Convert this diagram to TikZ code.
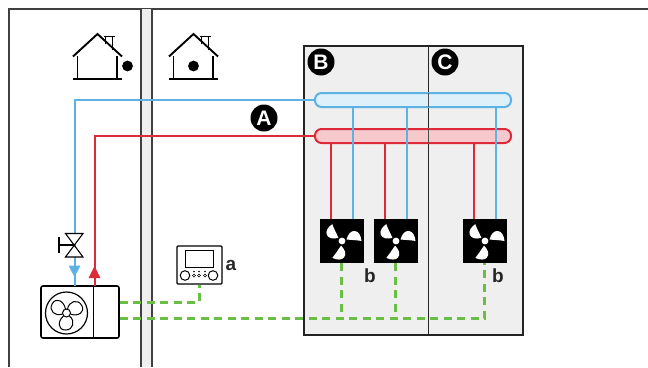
\documentclass[tikz,border=0pt]{standalone}
\usepackage{fontspec}
\setmainfont{Liberation Sans}
\definecolor{pipeblue}{HTML}{5CB2E5}
\definecolor{pipered}{HTML}{DC2A38}
\definecolor{wiregreen}{HTML}{6ABD45}
\definecolor{zonegray}{HTML}{EFEFEF}
\newcommand{\fanblades}{%
	\foreach \a in {0,120,240}
	\fill[white, rotate=\a] (4.5,-1.5) .. controls (6,-7) and (9,-10.5) .. (13,-10) .. controls (17,-9.5) and (19,-5) .. (19.5,0) .. controls (14,-1) and (9,-1) .. (4.5,-1.5) -- cycle;
}
\newcommand{\fanpetals}{%
	\foreach \a in {0,120,240}
	\draw[line width=1pt, rotate=\a] (-3,3) .. controls (-9,8) and (-9,17) .. (-1,17) .. controls (7,17) and (9,8) .. (3,3);
}
\newcommand{\housepic}[1]{%
	\begin{scope}[shift={(#1,0)}]
		\draw[line width=1.5pt] (-20,56) -- (-20,79) (19.5,56) -- (19.5,79) (-24.5,79) -- (24.5,79);
		\draw[line width=1pt] (8,44) -- (8,36) (15,50) -- (15,36) (6,36) -- (17,36);
		\draw[line width=1.9pt] (-24.5,56.5) -- (0,34) -- (24.5,56.5);
	\end{scope}
}
\begin{document}
\begin{tikzpicture}[x=1pt, y=-1pt,
	frame style/.style={draw=black!75, line width=1.5pt},
	header style/.style={draw, rounded corners=6.5pt, minimum width=196pt, minimum height=14pt, inner sep=0pt, line width=2pt},
	coil style/.style={fill=black, minimum size=44pt, inner sep=0pt},
	badge style/.style={circle, fill=black, text=white, minimum size=27pt, inner sep=0pt, font=\bfseries\fontsize{21}{21}\selectfont},
	letter style/.style={text=black!85, inner sep=0pt, font=\bfseries\fontsize{19}{19}\selectfont},
	blue pipe/.style={draw=pipeblue, line width=2.2pt},
	red pipe/.style={draw=pipered, line width=2.2pt},
	green wire/.style={draw=wiregreen, line width=2.6pt, dash pattern=on 8pt off 5.5pt}]
	\useasboundingbox (0,0) rectangle (648,367);
	% building
	\draw[frame style] (9,367) -- (9,9) -- (648,9);
	\fill[zonegray] (141,9) rectangle (152,367);
	\draw[frame style] (141,9) -- (141,367) (152,9) -- (152,367);
	\housepic{97.5}
	\housepic{193.5}
	\fill (127.5,66) circle (5.4);
	\fill (193.5,66) circle (5.4);
	% zones
	\draw[zonegray!15!black, fill=zonegray, line width=1.6pt] (304,46) rectangle (523,335);
	\draw[black!85, line width=1.2pt] (428.5,46) -- (428.5,335);
	\node[badge style] (B) at (321,62) {B};
	\node[badge style] (C) at (445,62) {C};
	\node[badge style] (A) at (264,118) {A};
	% units
	\node[draw, line width=1.6pt, fill=white, rounded corners=2pt, minimum width=78pt, minimum height=52pt, inner sep=0pt] (OU) at (80,312) {};
	\node[draw, line width=1.4pt, fill=white, rounded corners=1pt, minimum width=45pt, minimum height=38pt, inner sep=0pt] (UI) at (199.5,265) {};
	\node[coil style] (F1) at (342,241) {};
	\node[coil style] (F2) at (396,241) {};
	\node[coil style] (F3) at (485,241) {};
	\node[header style, draw=pipeblue, fill=pipeblue!20] (HB) at (413,100) {};
	\node[header style, draw=pipered, fill=pipered!25] (HR) at (413,136) {};
	\draw[black!70, line width=0.8pt] (428.5,93) -- (428.5,107) (428.5,129) -- (428.5,143);
	\coordinate (V) at (75,245);
	\coordinate (OB) at (75,286);
	\coordinate (OR) at (95,286);
	% wires
	\draw[green wire] (OU.east |- 0,302.5) -| (UI.south);
	\draw[green wire] (OU.east |- 0,318.5) -| ([xshift=-0.5pt]F3.south);
	\draw[green wire] ([xshift=-0.5pt]F1.south) -- ([xshift=-0.5pt]F1.south |- 0,318.5);
	\draw[green wire] ([xshift=-0.5pt]F2.south) -- ([xshift=-0.5pt]F2.south |- 0,318.5);
	% pipes
	\draw[red pipe] (HR.west) -| (OR);
	\foreach \x in {331,385,474}
	\draw[red pipe] (\x,143) -- (\x,219);
	\draw[blue pipe] (HB.west) -| (V);
	\draw[blue pipe] (V) -- (OB);
	\foreach \x in {353,407,496}
	\draw[blue pipe] (\x,107) -- (\x,219);
	% arrows and valve
	\fill[pipeblue] (68.5,265.5) -- (80.5,265.5) -- (74.5,277) -- cycle;
	\fill[pipered] (88.5,278) -- (100.5,278) -- (94.5,266) -- cycle;
	\draw[line width=1.1pt, fill=white] (65.5,233.5) -- (83,233.5) -- (65.5,257) -- (83,257) -- cycle;
	\draw[line width=1.1pt] (74.25,245) -- (59,245) (59,237) -- (59,253);
	% outdoor fan
	\draw[line width=0.9pt] (93,286) -- (93,338);
	\draw[line width=1.2pt] (66.5,313) circle (21);
	\begin{scope}[shift={(66.5,313)}]
		\fanpetals
	\end{scope}
	\draw[line width=1pt, fill=white] (66.5,313) circle (4);
	% fan coils
	\foreach \f in {F1,F2,F3} {
		\begin{scope}[shift={(\f)}]
			\fanblades
			\fill[white] (0,0) circle (3.4);
		\end{scope}
	}
	% controller
	\draw[line width=1pt] (185,250.5) rectangle (213.5,267);
	\draw[line width=1pt] (185,275.5) circle (4.8) (213,275.5) circle (4.8);
	\foreach \x in {194,199,205} {
		\draw[line width=0.6pt] (\x,275.5) circle (1.5);
		\fill (\x,271.5) circle (0.8);
	}
	\node[letter style] (La) at (231,265) {a};
	\node[letter style] (Lb) at (370,275.5) {b};
	\node[letter style] (Lc) at (498,275.5) {b};
\end{tikzpicture}
\end{document}
